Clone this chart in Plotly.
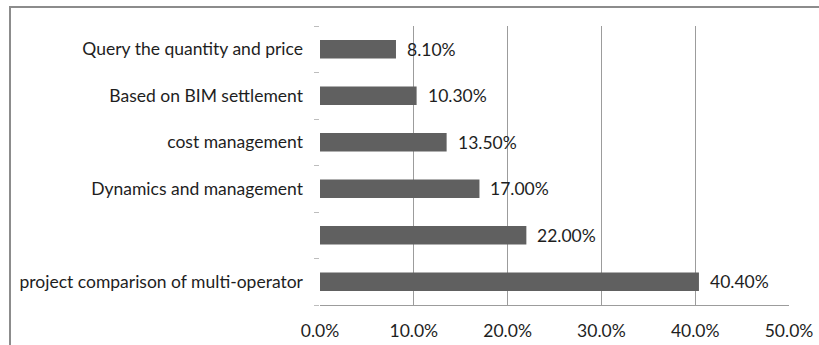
import plotly.graph_objects as go

# Survey results: share of respondents per BIM cost-application item
categories = [
    "project comparison of multi-operator",
    " ",
    "Dynamics and management",
    "cost management",
    "Based on BIM settlement",
    "Query the quantity and price",
]
shares = [0.404, 0.220, 0.170, 0.135, 0.103, 0.081]
x_ticks = [0.0, 0.1, 0.2, 0.3, 0.4, 0.5]

W, H = 819, 345
ML, MR, MT, MB = 320, 30, 26, 40
pw, ph = W - ML - MR, H - MT - MB

FONT = "Lato"
TEXT = "#1e1e1e"
FS = 17.5

fig = go.Figure(
    go.Bar(
        x=shares,
        y=categories,
        orientation="h",
        width=0.4,
        marker=dict(color="#606060", line=dict(width=0)),
        hoverinfo="skip",
    )
)

# value labels to the right of each bar
for c, v in zip(categories, shares):
    fig.add_annotation(
        x=v, y=c, xref="x", yref="y",
        text=f"{v * 100:.2f}%",
        showarrow=False, xanchor="left", yanchor="middle", xshift=9,
        font=dict(family=FONT, size=FS, color=TEXT),
    )

# outer chart frame
def px_x(p):
    return (p - ML) / pw

def px_y(p):
    return (H - MB - p) / ph

fig.add_shape(
    type="rect", xref="paper", yref="paper",
    x0=px_x(10), x1=px_x(830), y0=px_y(360), y1=px_y(7),
    line=dict(color="#8c8c8c", width=2), fillcolor="rgba(0,0,0,0)",
    layer="above",
)

fig.update_layout(
    width=W, height=H,
    margin=dict(l=ML, r=MR, t=MT, b=MB, pad=0, autoexpand=False),
    paper_bgcolor="white", plot_bgcolor="white",
    showlegend=False,
    font=dict(family=FONT, size=FS, color=TEXT),
    xaxis=dict(
        range=[0, 0.5],
        tickvals=x_ticks,
        tickformat=".1%",
        showgrid=True, gridcolor="#9c9c9c", gridwidth=1,
        showline=True, linecolor="#9c9c9c", linewidth=1,
        zeroline=False, ticks="",
        ticklabelstandoff=10,
        automargin=False,
        fixedrange=True,
    ),
    yaxis=dict(
        type="category",
        categoryorder="array", categoryarray=categories,
        tickson="boundaries", ticks="outside", ticklen=5,
        tickcolor="#bdbdbd", tickwidth=1,
        showgrid=False, showline=False, zeroline=False,
        ticklabelstandoff=16,
        automargin=False,
        fixedrange=True,
    ),
)

fig.write_html("out.html")
